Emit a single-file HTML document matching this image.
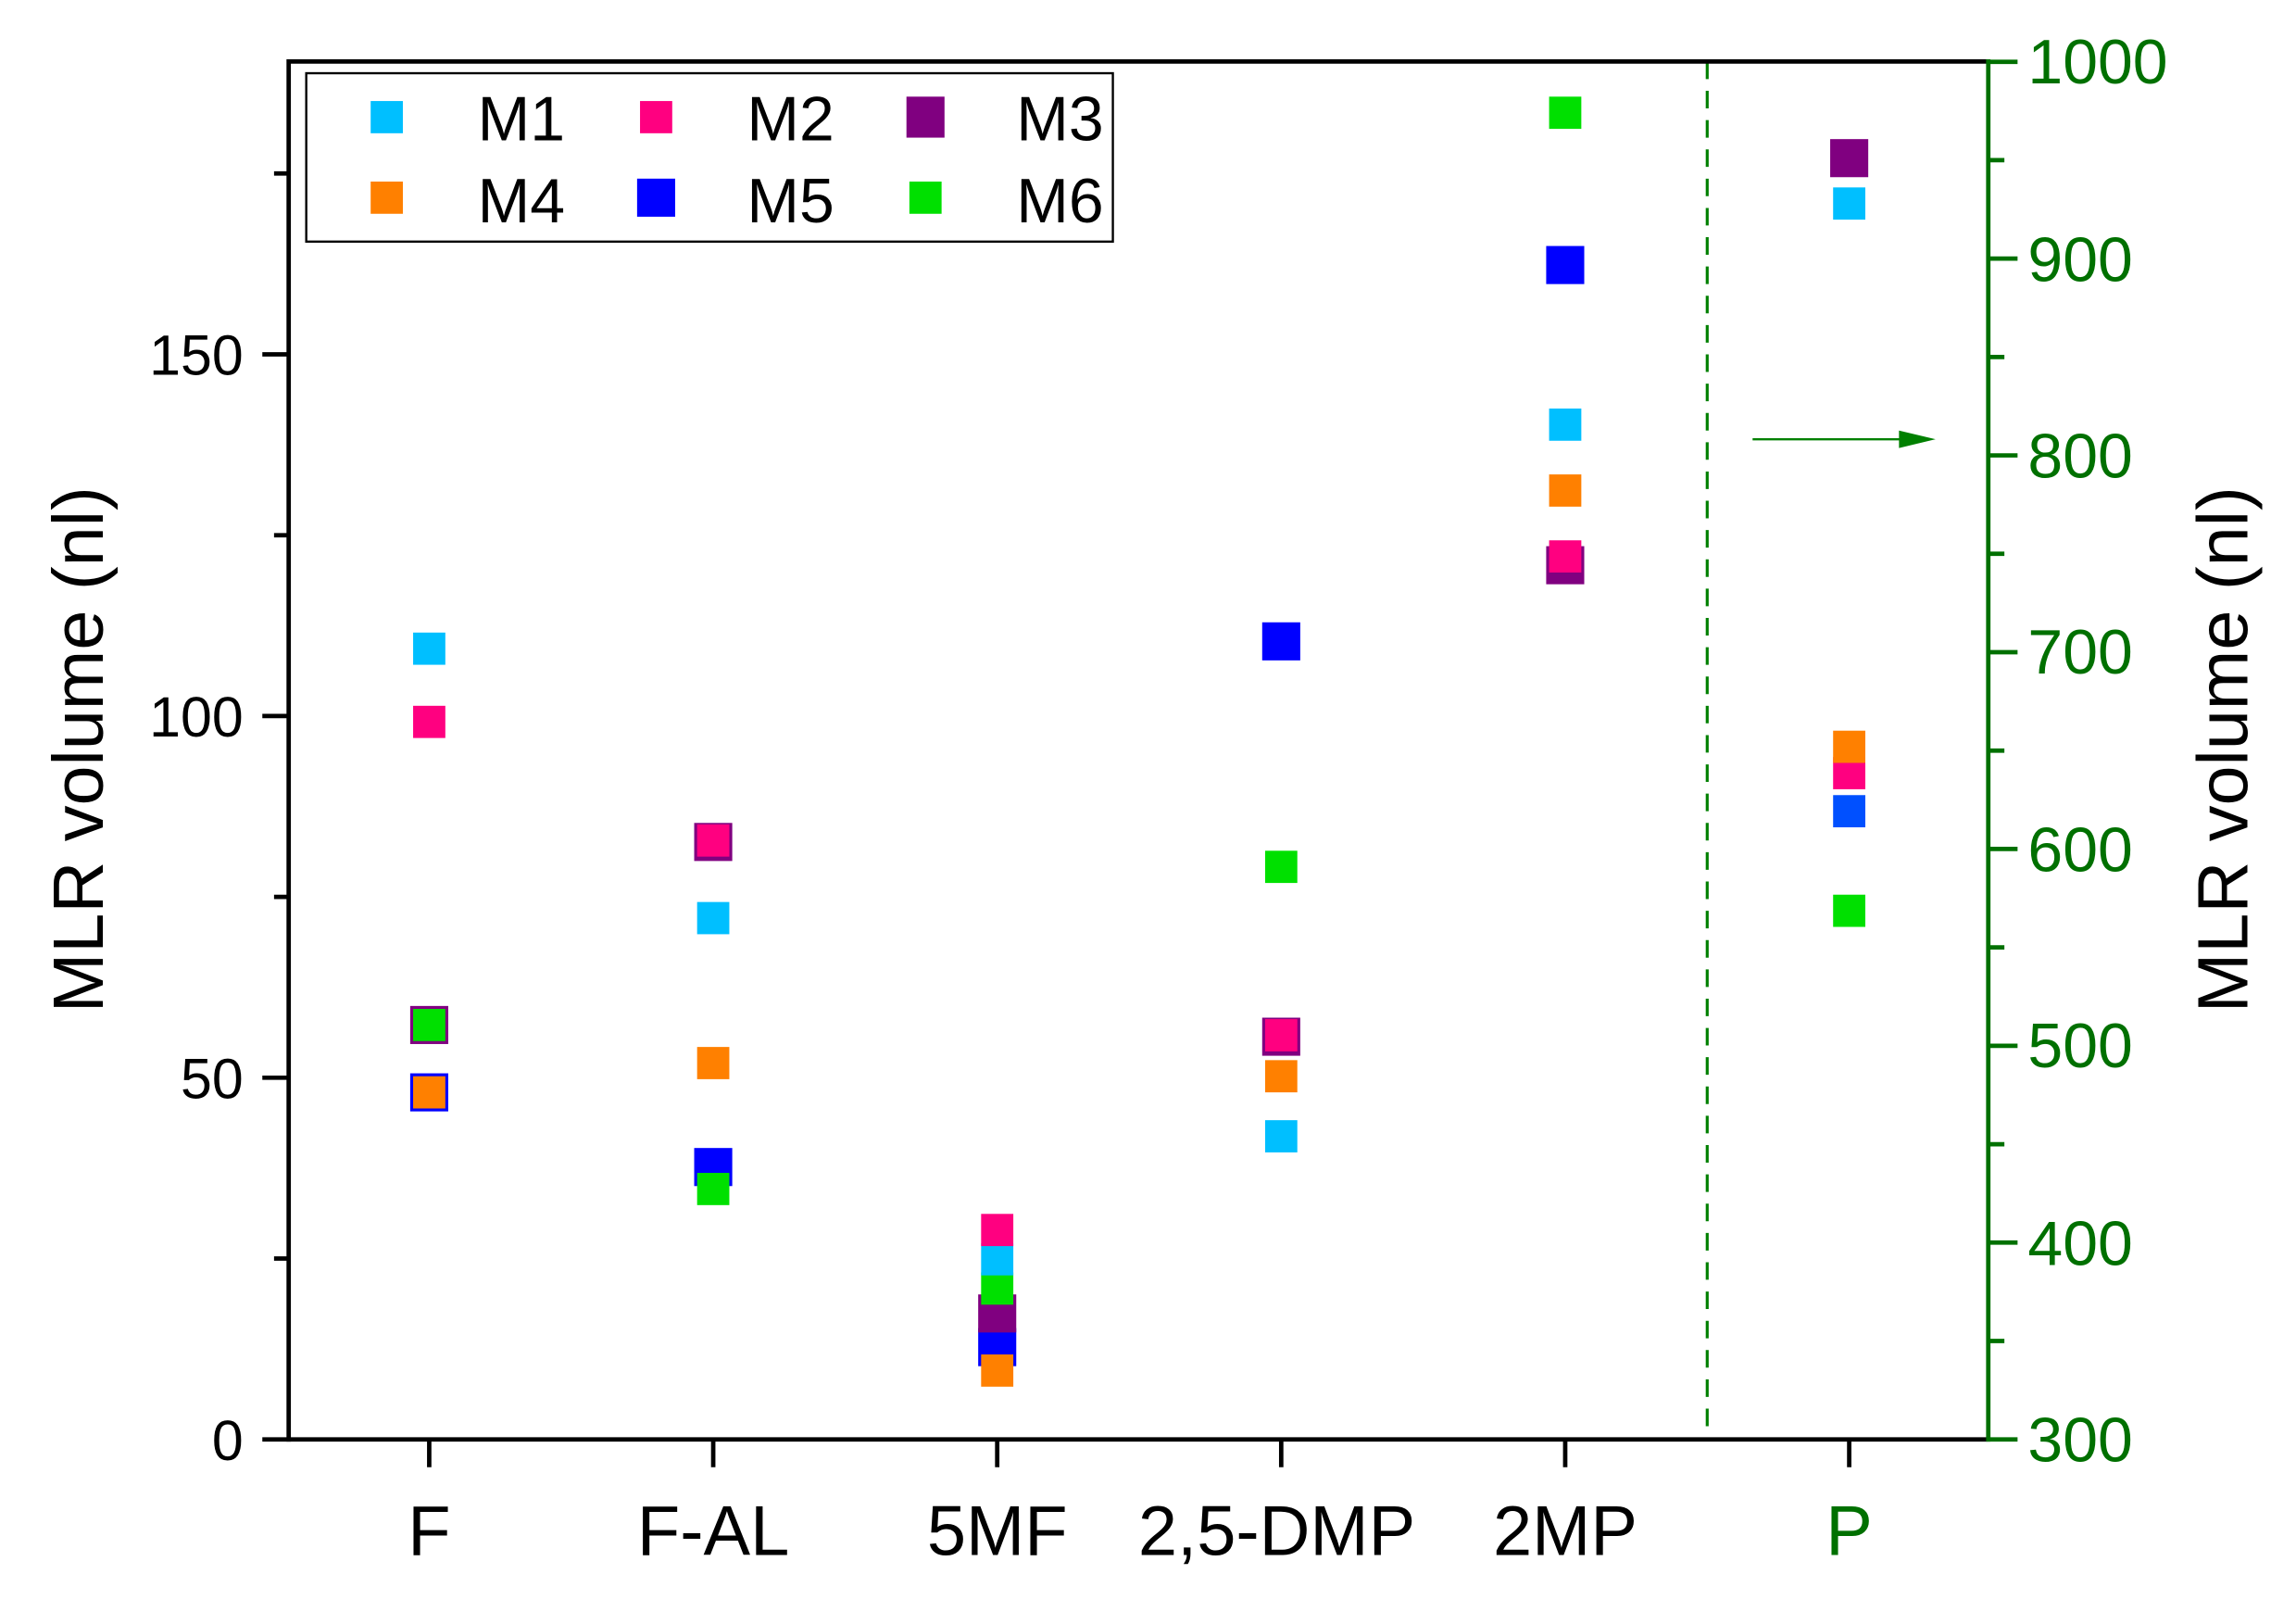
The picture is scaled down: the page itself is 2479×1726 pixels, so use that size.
<!DOCTYPE html>
<html><head><meta charset="utf-8"><style>html,body{margin:0;padding:0;background:#fff}svg{display:block}</style></head><body>
<svg width="2479" height="1726" viewBox="0 0 1568 1092" xmlns="http://www.w3.org/2000/svg" font-family="Liberation Sans, Arial, sans-serif">
<rect width="1568" height="1092" fill="#fff"/>
<line x1="1166" y1="42" x2="1166" y2="983" stroke="#008000" stroke-width="2" stroke-dasharray="12,8"/>
<line x1="1197" y1="300" x2="1300" y2="300" stroke="#008000" stroke-width="1.5"/>
<polygon points="1297,294 1322,300 1297,306" fill="#008000"/>
<line x1="197" y1="42" x2="1358" y2="42" stroke="#000" stroke-width="3"/>
<line x1="197" y1="983" x2="1358" y2="983" stroke="#000" stroke-width="3"/>
<line x1="197" y1="40.5" x2="197" y2="984.5" stroke="#000" stroke-width="3"/>
<line x1="1358" y1="40.5" x2="1358" y2="984.5" stroke="#007000" stroke-width="3"/>
<g stroke="#000" stroke-width="3">
<line x1="179" y1="983" x2="197" y2="983"/><line x1="179" y1="736" x2="197" y2="736"/><line x1="179" y1="489" x2="197" y2="489"/><line x1="179" y1="242" x2="197" y2="242"/>
<line x1="187" y1="859.5" x2="197" y2="859.5"/><line x1="187" y1="612.5" x2="197" y2="612.5"/><line x1="187" y1="365.5" x2="197" y2="365.5"/><line x1="187" y1="118.5" x2="197" y2="118.5"/>
<line x1="293" y1="983" x2="293" y2="1002"/><line x1="487" y1="983" x2="487" y2="1002"/><line x1="681" y1="983" x2="681" y2="1002"/><line x1="875" y1="983" x2="875" y2="1002"/><line x1="1069" y1="983" x2="1069" y2="1002"/><line x1="1263" y1="983" x2="1263" y2="1002"/>
</g>
<g stroke="#007000" stroke-width="3">
<line x1="1358" y1="983" x2="1378" y2="983"/><line x1="1358" y1="848.6" x2="1378" y2="848.6"/><line x1="1358" y1="714.2" x2="1378" y2="714.2"/><line x1="1358" y1="579.8" x2="1378" y2="579.8"/><line x1="1358" y1="445.4" x2="1378" y2="445.4"/><line x1="1358" y1="311" x2="1378" y2="311"/><line x1="1358" y1="176.6" x2="1378" y2="176.6"/><line x1="1358" y1="42.2" x2="1378" y2="42.2"/>
<line x1="1358" y1="915.8" x2="1369" y2="915.8"/><line x1="1358" y1="781.4" x2="1369" y2="781.4"/><line x1="1358" y1="647" x2="1369" y2="647"/><line x1="1358" y1="512.6" x2="1369" y2="512.6"/><line x1="1358" y1="378.2" x2="1369" y2="378.2"/><line x1="1358" y1="243.8" x2="1369" y2="243.8"/><line x1="1358" y1="109.4" x2="1369" y2="109.4"/>
</g>
<g font-size="38.5" text-anchor="end" fill="#000">
<text x="166" y="997">0</text><text x="166" y="750">50</text><text x="166" y="503">100</text><text x="166" y="256">150</text>
</g>
<g font-size="43" fill="#007000">
<text x="1385" y="998">300</text><text x="1385" y="864">400</text><text x="1385" y="729">500</text><text x="1385" y="595">600</text><text x="1385" y="460">700</text><text x="1385" y="326">800</text><text x="1385" y="192">900</text><text x="1385" y="57">1000</text>
</g>
<g font-size="48" text-anchor="middle" fill="#000">
<text x="293" y="1062">F</text><text x="487" y="1062">F-AL</text><text x="681" y="1062">5MF</text><text x="872" y="1062">2,5-DMP</text><text x="1069" y="1062">2MP</text><text x="1263" y="1062" fill="#007000">P</text>
</g>
<text transform="translate(70,512) rotate(-90)" font-size="49" text-anchor="middle">MLR volume (nl)</text>
<text transform="translate(1535,512) rotate(-90)" font-size="49" text-anchor="middle">MLR volume (nl)</text>
<rect x="209" y="50" width="551" height="115" fill="#fff" stroke="#000" stroke-width="1.5"/>
<rect x="253" y="69" width="22" height="22" fill="#00BFFF"/>
<rect x="437" y="69" width="22" height="22" fill="#FF0080"/>
<rect x="619" y="66" width="26" height="28" fill="#800080"/>
<rect x="253" y="124" width="22" height="22" fill="#FF8000"/>
<rect x="435" y="122" width="26" height="26" fill="#0000FF"/>
<rect x="621" y="124" width="22" height="22" fill="#00E000"/>
<g font-size="43" fill="#000">
<text x="326" y="96">M1</text><text x="510" y="96">M2</text><text x="694" y="96">M3</text>
<text x="326" y="152">M4</text><text x="510" y="152">M5</text><text x="694" y="152">M6</text>
</g>
<g>
<rect x="282" y="432" width="22" height="22" fill="#00BFFF"/>
<rect x="282" y="482" width="22" height="22" fill="#FF0080"/>
<rect x="280" y="687" width="26" height="26" fill="#800080"/>
<rect x="282" y="689" width="22" height="22" fill="#00E000"/>
<rect x="280" y="733" width="26" height="26" fill="#0000FF"/>
<rect x="282" y="735" width="22" height="22" fill="#FF8000"/>
<rect x="474" y="562" width="26" height="26" fill="#800080"/>
<rect x="476" y="563" width="22" height="22" fill="#FF0080"/>
<rect x="476" y="616" width="22" height="22" fill="#00BFFF"/>
<rect x="476" y="715" width="22" height="22" fill="#FF8000"/>
<rect x="474" y="784" width="26" height="26" fill="#0000FF"/>
<rect x="476" y="801" width="22" height="22" fill="#00E000"/>
<rect x="668" y="907" width="26" height="26" fill="#0000FF"/>
<rect x="668" y="884" width="26" height="26" fill="#800080"/>
<rect x="670" y="869" width="22" height="22" fill="#00E000"/>
<rect x="670" y="849" width="22" height="22" fill="#00BFFF"/>
<rect x="670" y="829" width="22" height="22" fill="#FF0080"/>
<rect x="670" y="925" width="22" height="22" fill="#FF8000"/>
<rect x="862" y="425" width="26" height="26" fill="#0000FF"/>
<rect x="864" y="581" width="22" height="22" fill="#00E000"/>
<rect x="862" y="695" width="26" height="26" fill="#800080"/>
<rect x="864" y="696" width="22" height="22" fill="#FF0080"/>
<rect x="864" y="724" width="22" height="22" fill="#FF8000"/>
<rect x="864" y="765" width="22" height="22" fill="#00BFFF"/>
<rect x="1058" y="66" width="22" height="22" fill="#00E000"/>
<rect x="1056" y="168" width="26" height="26" fill="#0000FF"/>
<rect x="1058" y="279" width="22" height="22" fill="#00BFFF"/>
<rect x="1058" y="324" width="22" height="22" fill="#FF8000"/>
<rect x="1056" y="373" width="26" height="26" fill="#800080"/>
<rect x="1058" y="369" width="22" height="22" fill="#FF0080"/>
<rect x="1250" y="95" width="26" height="26" fill="#800080"/>
<rect x="1252" y="128" width="22" height="22" fill="#00BFFF"/>
<rect x="1252" y="517" width="22" height="22" fill="#FF0080"/>
<rect x="1252" y="499" width="22" height="22" fill="#FF8000"/>
<rect x="1252" y="543" width="22" height="22" fill="#0050FF"/>
<rect x="1252" y="611" width="22" height="22" fill="#00E000"/>
</g>
</svg>
</body></html>
